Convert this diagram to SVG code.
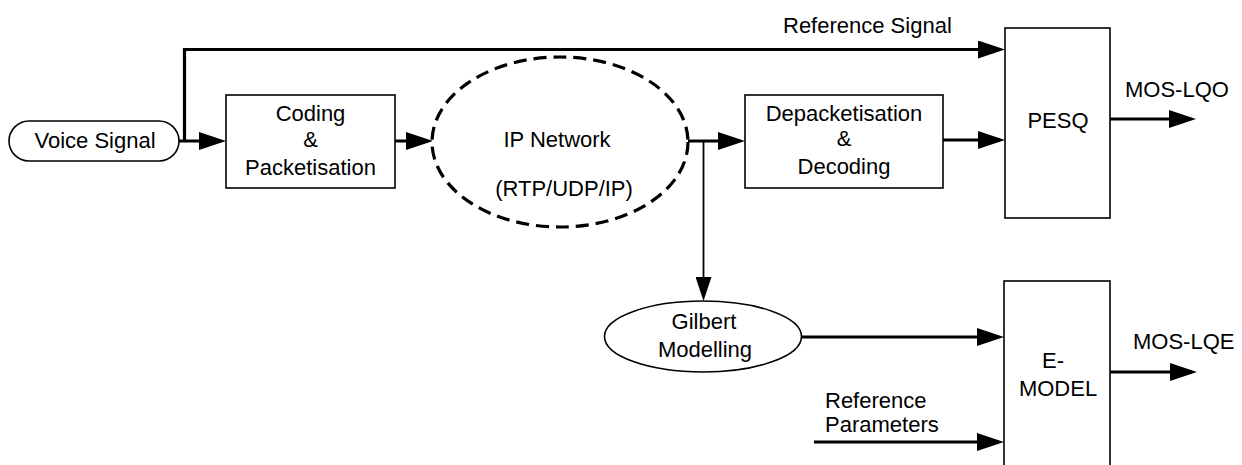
<svg xmlns="http://www.w3.org/2000/svg" width="1242" height="465" viewBox="0 0 1242 465">
<style>
  .box{fill:#fff;stroke:#000;stroke-width:1.6}
  .t{font-family:"Liberation Sans",Arial,sans-serif;font-size:22px;fill:#000;text-anchor:middle}
  .ts{font-family:"Liberation Sans",Arial,sans-serif;font-size:22px;fill:#000}
  .c{fill:none;stroke:#000;stroke-width:3.2}
  .cthin{fill:none;stroke:#000;stroke-width:1.8}
</style>
<defs>
  <marker id="ah" markerUnits="userSpaceOnUse" markerWidth="27" markerHeight="18" refX="22" refY="9" orient="auto">
    <path d="M0,0 L27,9 L0,18 Z" fill="#000"/>
  </marker>
  <marker id="ahs" markerUnits="userSpaceOnUse" markerWidth="16" markerHeight="24" refX="8" refY="19" orient="0">
    <path d="M0,0 L16,0 L8,24 Z" fill="#000"/>
  </marker>
</defs>
<rect width="1242" height="465" fill="#fff"/>

<g id="connectors">
  <path class="c" d="M179,141 H221" marker-end="url(#ah)"/>
  <path class="c" d="M184.5,141 V49.5 H1000" marker-end="url(#ah)"/>
  <path class="c" d="M395,141 H428" marker-end="url(#ah)"/>
  <path class="c" d="M688,141 H740" marker-end="url(#ah)"/>
  <path class="cthin" d="M703.5,141 V296" marker-end="url(#ahs)"/>
  <path class="c" d="M943,140 H1000" marker-end="url(#ah)"/>
  <path class="c" d="M1110,119 H1191" marker-end="url(#ah)"/>
  <path class="c" d="M801,337 H999" marker-end="url(#ah)"/>
  <path class="c" d="M814,442 H999" marker-end="url(#ah)"/>
  <path class="c" d="M1110,372 H1192" marker-end="url(#ah)"/>
</g>

<g id="voice">
  <rect class="box" x="9" y="121" width="170" height="40" rx="20" ry="20"/>
  <text class="t" x="95" y="148">Voice Signal</text>
</g>
<g id="coding">
  <rect class="box" x="226" y="95" width="169" height="93"/>
  <text class="t" x="310.5" y="121">Coding</text>
  <text class="t" x="310.5" y="147">&amp;</text>
  <text class="t" x="310.5" y="175">Packetisation</text>
</g>
<g id="ipnet">
  <ellipse cx="560" cy="142" rx="128" ry="85" fill="#fff" stroke="#000" stroke-width="3.2" stroke-dasharray="13 7"/>
  <text class="t" x="557" y="147">IP Network</text>
  <text class="t" x="564" y="196">(RTP/UDP/IP)</text>
</g>
<g id="depack">
  <rect class="box" x="745" y="95" width="198" height="93"/>
  <text class="t" x="844" y="121">Depacketisation</text>
  <text class="t" x="844" y="146">&amp;</text>
  <text class="t" x="844" y="174">Decoding</text>
</g>
<g id="pesq">
  <rect class="box" x="1005" y="28" width="105" height="190"/>
  <text class="t" x="1058" y="128">PESQ</text>
</g>
<g id="gilbert">
  <ellipse class="box" cx="703" cy="336.5" rx="98.5" ry="35.5"/>
  <text class="t" x="704" y="329">Gilbert</text>
  <text class="t" x="705" y="357">Modelling</text>
</g>
<g id="emodel">
  <rect class="box" x="1004" y="281" width="106" height="192"/>
  <text class="t" x="1053" y="368">E-</text>
  <text class="t" x="1058" y="396">MODEL</text>
</g>
<g id="labels">
  <text class="ts" x="783" y="33">Reference Signal</text>
  <text class="ts" x="1125" y="97">MOS-LQO</text>
  <text class="ts" x="1133" y="349">MOS-LQE</text>
  <text class="ts" x="825" y="408">Reference</text>
  <text class="ts" x="825" y="432">Parameters</text>
</g>
</svg>
